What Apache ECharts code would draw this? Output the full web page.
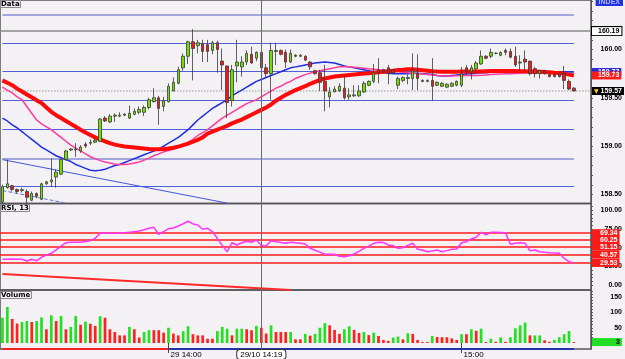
<!DOCTYPE html>
<html>
<head>
<meta charset="utf-8">
<script src="https://cdn.jsdelivr.net/npm/echarts@6/dist/echarts.min.js"></script>
<style>
html, body { margin: 0; padding: 0; background: #f3f1f3; }
#chart { width: 625px; height: 359px; }
</style>
</head>
<body>
<div id="chart"></div>
<script>
// one-minute bars, 13:26 .. 15:26 (last three slots empty)
const times = [];
for (let m = 13 * 60 + 26; m <= 15 * 60 + 26; m++) {
    times.push(Math.floor(m / 60) + ':' + String(m % 60).padStart(2, '0'));
}
const shownTimes = { '14:00': '29 14:00', '15:00': '15:00' };
const crossTime = '14:19';
const crossLabel = '29/10 14:19';

// [open, close, low, high]
const candles = [
    [158.42,158.58,158.41,158.60],[158.57,158.61,158.56,158.86],[158.59,158.55,158.53,158.60],[158.55,158.53,158.51,158.56],
    [158.54,158.55,158.52,158.57],[158.53,158.47,158.41,158.55],[158.44,158.51,158.43,158.53],[158.51,158.48,158.46,158.52],
    [158.45,158.61,158.44,158.62],[158.61,158.63,158.60,158.64],[158.63,158.65,158.58,158.87],[158.68,158.73,158.57,158.76],
    [158.71,158.86,158.70,158.87],[158.86,158.95,158.85,158.96],[158.96,158.97,158.95,158.98],[158.96,158.97,158.89,159.03],
    [158.95,158.99,158.93,159.01],[159.02,159.00,158.98,159.04],[159.03,159.04,159.01,159.07],[159.04,159.06,159.03,159.08],
    [159.05,159.28,159.04,159.29],[159.29,159.26,159.25,159.31],[159.25,159.31,159.24,159.33],[159.31,159.32,159.25,159.34],
    [159.31,159.32,159.30,159.35],[159.32,159.33,159.31,159.34],[159.29,159.34,159.28,159.42],[159.33,159.36,159.32,159.39],
    [159.35,159.38,159.33,159.41],[159.35,159.40,159.31,159.42],[159.40,159.48,159.38,159.50],[159.46,159.50,159.45,159.60],
    [159.50,159.39,159.22,159.52],[159.41,159.47,159.36,159.51],[159.46,159.62,159.45,159.65],[159.57,159.66,159.57,159.71],
    [159.65,159.79,159.64,159.82],[159.81,159.93,159.78,159.96],[159.93,160.08,159.85,160.09],[160.08,160.01,159.68,160.21],
    [160.04,160.07,159.96,160.10],[160.06,159.98,159.87,160.10],[160.05,159.98,159.87,160.10],[159.99,160.07,159.95,160.09],
    [160.07,160.00,159.76,160.09],[159.88,159.84,159.58,160.01],[159.83,159.45,159.29,159.83],[159.47,159.79,159.41,159.84],
    [159.83,159.87,159.66,160.10],[159.82,159.87,159.72,159.93],[159.87,159.96,159.84,159.99],[159.95,159.86,159.85,160.03],
    [159.91,159.97,159.88,159.98],[159.97,159.81,159.77,160.02],[159.81,159.75,159.71,159.85],[159.75,159.99,159.48,160.07],
    [159.98,159.99,159.84,160.07],[159.99,159.95,159.94,160.00],[159.97,159.87,159.81,160.00],[159.87,159.96,159.86,160.00],
    [159.94,159.93,159.92,159.95],[159.93,159.94,159.92,159.95],[159.93,159.89,159.88,159.94],[159.87,159.82,159.79,159.88],
    [159.78,159.75,159.74,159.79],[159.76,159.66,159.57,159.79],[159.67,159.57,159.36,159.84],[159.51,159.56,159.40,159.61],
    [159.56,159.59,159.56,159.62],[159.57,159.62,159.56,159.65],[159.60,159.50,159.48,159.73],[159.51,159.53,159.48,159.60],
    [159.52,159.53,159.51,159.63],[159.52,159.57,159.51,159.63],[159.56,159.65,159.55,159.67],[159.63,159.67,159.62,159.68],
    [159.67,159.76,159.65,159.85],[159.79,159.76,159.65,159.91],[159.79,159.77,159.76,159.80],[159.81,159.75,159.64,159.84],
    [159.79,159.76,159.75,159.80],[159.63,159.70,159.59,159.72],[159.68,159.71,159.66,159.72],[159.70,159.71,159.64,159.74],
    [159.70,159.78,159.58,159.96],[159.75,159.70,159.58,159.95],[159.68,159.67,159.66,159.69],[159.67,159.68,159.66,159.69],
    [159.68,159.62,159.47,159.91],[159.63,159.66,159.62,159.67],[159.62,159.65,159.61,159.66],[159.61,159.64,159.60,159.65],
    [159.62,159.65,159.61,159.66],[159.63,159.67,159.62,159.68],[159.63,159.75,159.61,159.82],[159.81,159.77,159.74,159.84],
    [159.77,159.81,159.69,159.84],[159.80,159.86,159.78,159.88],[159.85,159.93,159.84,159.99],[159.93,159.91,159.90,159.94],
    [159.93,159.97,159.91,160.01],[159.96,159.96,159.95,159.97],[159.94,159.97,159.93,159.98],[159.99,159.97,159.94,160.01],
    [159.98,159.92,159.91,160.01],[159.93,159.84,159.82,160.03],[159.86,159.87,159.78,159.94],[159.90,159.87,159.78,159.99],
    [159.88,159.75,159.73,159.88],[159.80,159.75,159.71,159.82],[159.75,159.78,159.70,159.79],[159.78,159.75,159.74,159.79],
    [159.74,159.72,159.71,159.75],[159.74,159.72,159.71,159.75],[159.75,159.72,159.71,159.76],[159.75,159.68,159.59,159.83],
    [159.67,159.59,159.58,159.69],[159.60,159.57,159.57,159.61]
];

const maFast = [
    159.29,159.26,159.22,159.19,159.15,159.11,159.07,159.03,158.99,158.96,
    158.93,158.90,158.88,158.86,158.84,158.81,158.79,158.77,158.75,158.745,
    158.75,158.76,158.78,158.80,158.81,158.83,158.85,158.87,158.89,158.91,
    158.93,158.95,158.97,159.00,159.03,159.06,159.09,159.13,159.17,159.22,
    159.27,159.31,159.35,159.39,159.42,159.45,159.48,159.52,159.55,159.58,
    159.61,159.64,159.67,159.69,159.71,159.73,159.75,159.77,159.79,159.81,
    159.82,159.83,159.84,159.85,159.86,159.865,159.87,159.865,159.86,159.845,
    159.83,159.82,159.81,159.80,159.79,159.78,159.77,159.765,159.76,159.755,
    159.75,159.75,159.75,159.75,159.755,159.755,159.75,159.745,159.74,159.73,
    159.725,159.725,159.73,159.735,159.74,159.745,159.75,159.755,159.76,159.76,
    159.765,159.77,159.775,159.78,159.78,159.78,159.78,159.78,159.78,159.78,
    159.775,159.77,159.77,159.77,159.77,159.77,159.767,159.767
];
const maMid = [
    159.61,159.58,159.55,159.51,159.48,159.41,159.34,159.27,159.23,159.20,
    159.17,159.13,159.09,159.05,159.01,158.98,158.95,158.92,158.89,158.87,
    158.85,158.835,158.825,158.815,158.81,158.81,158.815,158.825,158.835,158.855,
    158.875,158.90,158.92,158.94,158.955,158.97,158.99,159.01,159.04,159.07,
    159.11,159.14,159.17,159.21,159.25,159.29,159.32,159.35,159.38,159.41,
    159.44,159.46,159.48,159.51,159.54,159.57,159.60,159.62,159.65,159.67,
    159.70,159.72,159.74,159.755,159.77,159.78,159.79,159.80,159.81,159.82,
    159.82,159.82,159.815,159.81,159.805,159.80,159.795,159.79,159.785,159.78,
    159.775,159.77,159.765,159.76,159.755,159.75,159.745,159.74,159.735,159.73,
    159.727,159.726,159.726,159.727,159.728,159.73,159.73,159.731,159.733,159.736,
    159.74,159.743,159.746,159.748,159.75,159.752,159.754,159.756,159.757,159.757,
    159.756,159.755,159.753,159.751,159.749,159.746,159.743,159.74
];
const maSlow = [
    159.68,159.655,159.63,159.595,159.565,159.535,159.505,159.475,159.445,159.40,
    159.355,159.32,159.29,159.26,159.23,159.20,159.17,159.14,159.115,159.09,
    159.07,159.05,159.03,159.015,159.005,158.995,158.99,158.985,158.98,158.975,
    158.97,158.967,158.967,158.97,158.975,158.983,158.995,159.01,159.025,159.045,
    159.065,159.09,159.13,159.15,159.17,159.19,159.21,159.235,159.255,159.275,
    159.30,159.325,159.35,159.375,159.40,159.43,159.47,159.50,159.53,159.555,
    159.58,159.60,159.62,159.645,159.665,159.685,159.70,159.71,159.72,159.725,
    159.73,159.735,159.74,159.745,159.75,159.755,159.76,159.765,159.77,159.775,
    159.78,159.787,159.79,159.795,159.795,159.79,159.785,159.78,159.775,159.772,
    159.77,159.77,159.77,159.77,159.771,159.772,159.772,159.772,159.773,159.775,
    159.776,159.777,159.777,159.777,159.777,159.776,159.775,159.774,159.773,159.772,
    159.77,159.768,159.765,159.76,159.757,159.75,159.74,159.731
];

// horizontal price levels and the two marked prices
const levels = [160.36, 160.065, 159.77, 159.47, 159.17, 158.87, 158.58];
const wideLevels = [160.36, 158.87];
const highPrice = 160.19;
const lastPrice = 159.57;
const trendA = [[0, 158.86], [46, 158.41]];
const trendB = [[0, 158.54], [13, 158.41]];

const rsi = [
    34.4,34.6,34.8,34.5,34.4,32.1,34.4,32.5,37.1,40,
    42.4,46.9,52,56.6,57.2,57.2,57.2,58.2,59.3,62.5,
    69.2,69.2,69.2,69.4,69.6,70,70.5,71.4,72.3,74,
    75.9,77.2,67.9,71.4,75.4,76.3,79,82,85.3,81.7,
    80.3,74.6,75.9,71.4,62.5,53,44.6,56.6,53.5,56.6,
    58.5,57.2,60.2,53.1,52.2,59.3,58,57,55.8,57.2,
    56.6,55.8,54.9,49.1,46.5,44,41.1,41.1,41.1,38.5,
    37.9,39.2,41.5,45,49.1,52,55.8,57.2,57,53.5,
    52.6,49.1,50,53,55.8,47.8,46.9,44.6,45.5,46.9,
    44.6,46,47.8,48.2,56.6,58,61.6,64,70.5,67,
    70.5,70.5,70.3,70,54.5,56,56.6,55.8,45.9,46.9,
    44.5,43.8,43.2,42.8,42.4,35.7,31.2,29.6
];
const rsiLevels = [69.34, 60.25, 51.15, 40.57, 29.53];
const rsiTrend = [[0, 14.7], [59, -6.7]];

const volume = [
    83,118,79,64,69,72,69,72,84,45, 91,72,89,45,53,89,60,70,63,56,
    88,83,45,36,25,25,53,45,18,36, 42,42,42,34,50,31,25,39,55,29,
    25,25,14,14,39,53,47,25,47,47, 45,42,56,50,31,58,36,36,36,36,
    12,12,30,24,30,50,65,58,43,30, 45,55,43,33,36,26,34,23,10,7,
    18,21,12,32,30,10,3,3,23,20, 19,19,15,10,29,29,45,40,47,3,
    14,4,18,4,19,48,58,67,25,25, 25,9,4,10,19,29,39,3
];
const volUp = [
    1,1,0,0,1,1,0,1,1,0, 1,0,1,0,1,1,0,1,0,0,
    1,0,0,0,0,0,1,0,0,1, 1,0,0,0,1,0,0,1,1,0,
    0,0,0,0,1,1,1,0,1,1, 0,0,1,0,0,1,0,0,0,1,
    0,0,1,0,1,1,1,0,0,0, 1,1,0,0,1,0,1,0,0,0,
    1,1,0,1,0,0,0,0,1,0, 0,0,0,0,1,0,1,0,1,0,
    1,0,1,0,1,1,1,1,0,1, 1,0,0,1,1,1,1,0
];
const lastVolume = 3;
const sessionSplit = '14:00';

const priceLabels = [158.5, 159.0, 159.5, 160.0];
const priceTicks = [158.5,158.6,158.7,158.8,158.9,159.0,159.1,159.2,159.3,159.4,159.5,159.6,159.7,159.8,159.9,160.0,160.1,160.2,160.3,160.4,160.5];
const rsiLabels = [0, 25, 50, 75, 100];
const rsiTicks = [0,5,10,15,20,25,30,35,40,45,50,55,60,65,70,75,80,85,90,95,100,105];
const volLabels = [50, 100, 150];
const volTicks = [0,10,20,30,40,50,60,70,80,90,100,110,120,130,140,150,160,170];

const chart = echarts.init(document.getElementById('chart'));

const axisFont = { fontFamily: 'Liberation Sans', fontSize: 7, fontWeight: 'bold', color: '#000' };
const boxLabel = (bg, fg) => ({
    show: true, position: 'end', distance: 1,
    backgroundColor: bg, color: fg, padding: [1, 2, 0, 6],
    fontFamily: 'Liberation Sans', fontSize: 7, fontWeight: 'bold'
});
const paneTitle = (text, top) => ({
    text: text, left: 0, top: top, padding: [0, 1],
    backgroundColor: '#f3f1f3', borderColor: '#8a8a8a', borderWidth: 1,
    textStyle: { fontFamily: 'DejaVu Sans', fontSize: 7, fontWeight: 'bold', color: '#000', lineHeight: 8 }
});
const crossLine = { color: '#6a6a6a', width: 1, type: 'solid' };
const hiddenX = (gi) => ({
    type: 'category', gridIndex: gi, data: times, boundaryGap: true,
    axisLine: { show: false }, axisTick: { show: false }, axisLabel: { show: false },
    axisPointer: { show: true, value: times.indexOf(crossTime), status: 'show', type: 'line',
        lineStyle: crossLine, label: { show: false } }
});
const rightY = (gi, min, max, labels, ticks, fmt) => ({
    type: 'value', gridIndex: gi, position: 'right', min: min, max: max,
    axisLine: { show: true, lineStyle: { color: '#555', width: 1 } },
    axisTick: { show: true, length: 2, customValues: ticks, lineStyle: { color: '#555' } },
    axisLabel: Object.assign({ customValues: labels, formatter: fmt, align: 'right', margin: 31 }, axisFont),
    splitLine: { show: false }
});

const option = {
    animation: false,
    backgroundColor: '#f3f1f3',
    title: [
        paneTitle('Data', 0),
        paneTitle('RSI, 13', 204),
        paneTitle('Volume', 291),
        { text: 'INDEX', right: 2, top: -2, padding: [0, 3], backgroundColor: '#2233dd',
          textStyle: { fontFamily: 'Liberation Sans', fontSize: 7, fontWeight: 'bold', color: '#aab4ff', lineHeight: 8 } }
    ],
    axisPointer: { triggerOn: 'none', link: [{ xAxisIndex: 'all' }] },
    grid: [
        { left: -3, right: 33, top: 0, height: 203.5, show: true, borderColor: '#555', borderWidth: 1.5 },
        { left: -3, right: 33, top: 203.5, height: 86.5, show: true, borderColor: '#555', borderWidth: 1.5 },
        { left: -3, right: 33, top: 290, height: 59, show: true, borderColor: '#555', borderWidth: 1.5 }
    ],
    xAxis: [
        hiddenX(0),
        hiddenX(1),
        {
            type: 'category', gridIndex: 2, data: times, boundaryGap: true,
            axisLine: { show: false },
            axisTick: { show: true, alignWithLabel: true, length: 10,
                interval: (i, v) => v in shownTimes, lineStyle: { color: '#444' } },
            axisLabel: { interval: (i, v) => v in shownTimes, formatter: v => shownTimes[v] || v,
                align: 'left', margin: 2, padding: [0, 0, 0, 2],
                fontFamily: 'Liberation Sans', fontSize: 8, color: '#000' },
            axisPointer: { show: true, value: times.indexOf(crossTime), status: 'show', type: 'line',
                lineStyle: crossLine,
                label: { show: true, formatter: () => crossLabel, backgroundColor: '#fff',
                    borderColor: '#333', borderWidth: 1, color: '#000', padding: [1, 3, 0, 3], margin: 1,
                    fontFamily: 'Liberation Sans', fontSize: 8 } }
        }
    ],
    yAxis: [
        rightY(0, 158.406, 160.512, priceLabels, priceTicks, v => v.toFixed(2)),
        rightY(1, -6.7, 109.1, rsiLabels, rsiTicks, v => v.toFixed(2)),
        rightY(2, -19.7, 174, volLabels, volTicks, v => String(v))
    ],
    series: [
        {
            type: 'candlestick', xAxisIndex: 0, yAxisIndex: 0, z: 4,
            data: candles, barWidth: 3,
            itemStyle: { color: '#6ee000', color0: '#f01818', borderColor: '#3a3a3a', borderColor0: '#3a3a3a', borderWidth: 0.8 },
            markLine: {
                silent: true, symbol: ['none', 'none'], z: 1, label: { show: false },
                data: [
                    ...levels.map(v => {
                        const wide = wideLevels.includes(v);
                        return [
                            { coord: [times[0], v], lineStyle: { color: wide ? '#a2a6dc' : '#4f5fd6', width: wide ? 2 : 1, type: 'solid' } },
                            { coord: [times[candles.length - 1], v] }
                        ];
                    }),
                    { yAxis: highPrice, lineStyle: { color: '#8a8a8a', width: 1.5, type: 'solid' },
                      label: Object.assign(boxLabel('#fff', '#000'), { formatter: highPrice.toFixed(2), borderColor: '#000', borderWidth: 1 }) },
                    { yAxis: lastPrice, lineStyle: { color: '#b8b8b8', width: 1.5, type: 'dotted' },
                      label: Object.assign(boxLabel('#000', '#fff'), { formatter: '{a|▼} ' + lastPrice.toFixed(2), padding: [1, 2, 0, 2],
                        rich: { a: { color: '#ffd400', fontFamily: 'DejaVu Sans', fontSize: 6 } } }) },
                    [{ coord: [times[trendA[0][0]], trendA[0][1]], lineStyle: { color: '#4455dd', width: 1, type: 'solid' } },
                     { coord: [times[trendA[1][0]], trendA[1][1]] }],
                    [{ coord: [times[trendB[0][0]], trendB[0][1]], lineStyle: { color: '#6677dd', width: 1, type: 'dashed' } },
                     { coord: [times[trendB[1][0]], trendB[1][1]] }]
                ]
            }
        },
        {
            type: 'line', xAxisIndex: 0, yAxisIndex: 0, z: 3, data: maFast, symbol: 'none',
            lineStyle: { color: '#1f2fe0', width: 1.5 },
            endLabel: { show: true, formatter: p => p.value.toFixed(2), distance: 18,
                backgroundColor: '#2b2bdc', color: '#fff', padding: [1, 2, 0, 6],
                fontFamily: 'Liberation Sans', fontSize: 7, fontWeight: 'bold' }
        },
        {
            type: 'line', xAxisIndex: 0, yAxisIndex: 0, z: 3, data: maMid, symbol: 'none',
            lineStyle: { color: '#ff3c9c', width: 1.5 }
        },
        {
            type: 'line', xAxisIndex: 0, yAxisIndex: 0, z: 3, data: maSlow, symbol: 'none',
            lineStyle: { color: '#ff0a0a', width: 4 },
            endLabel: { show: true, formatter: p => p.value.toFixed(2), distance: 18,
                backgroundColor: '#ff1a1a', color: '#fff', padding: [1, 2, 0, 6],
                fontFamily: 'Liberation Sans', fontSize: 7, fontWeight: 'bold' }
        },
        {
            type: 'line', xAxisIndex: 1, yAxisIndex: 1, z: 3, data: rsi, symbol: 'none',
            lineStyle: { color: '#ff33ff', width: 1.5 },
            markLine: {
                silent: true, symbol: ['none', 'none'], z: 1,
                data: [
                    ...rsiLevels.map(v => ({ yAxis: v, lineStyle: { color: '#ff1a1a', width: 1.5, type: 'solid' },
                        label: Object.assign(boxLabel('#ff1a1a', '#fff'), { formatter: v.toFixed(2), padding: [1, 2, 0, 8] }) })),
                    [{ coord: [times[rsiTrend[0][0]], rsiTrend[0][1]], lineStyle: { color: '#ff2a2a', width: 2, type: 'solid' }, label: { show: false } },
                     { coord: [times[rsiTrend[1][0]], rsiTrend[1][1]] }]
                ]
            }
        },
        {
            type: 'bar', xAxisIndex: 2, yAxisIndex: 2, z: 3, barWidth: 2.7,
            data: volume.map((v, i) => ({ value: v, itemStyle: { color: volUp[i] ? '#22e022' : '#ff2020' } })),
            markLine: {
                silent: true, symbol: ['none', 'none'], z: 1,
                data: [
                    { yAxis: lastVolume, lineStyle: { color: 'transparent', width: 0 },
                      label: Object.assign(boxLabel('#22dd22', '#000'), { formatter: String(lastVolume), padding: [1, 2, 0, 24] }) },
                    [{ coord: [times[0], -18], lineStyle: { color: '#ee2222', width: 2, type: 'solid' }, label: { show: false } },
                     { coord: [sessionSplit, -18] }],
                    [{ coord: [sessionSplit, -18], lineStyle: { color: '#2233aa', width: 2, type: 'solid' }, label: { show: false } },
                     { coord: [times[volume.length - 1], -18] }]
                ]
            }
        }
    ]
};

chart.setOption(option);
</script>
</body>
</html>
